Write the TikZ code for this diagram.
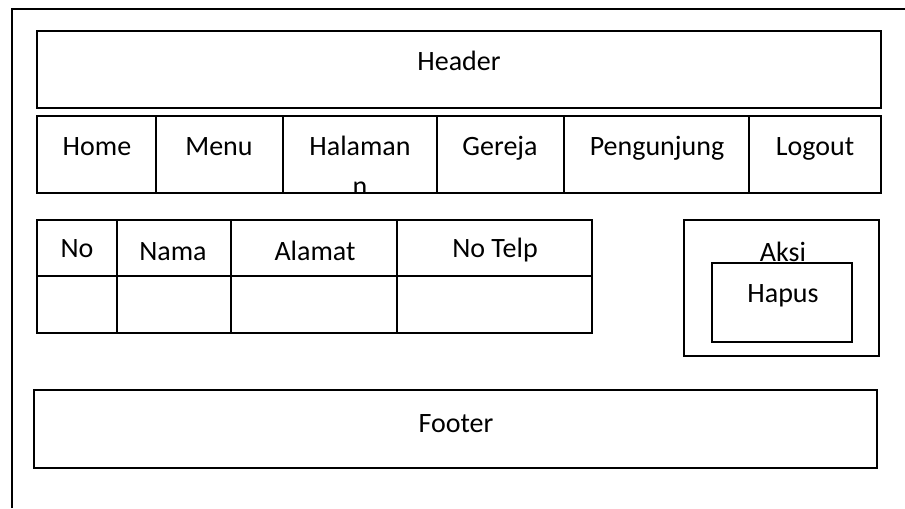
\documentclass[tikz,border=0pt]{standalone}
\usepackage{fontspec}
\setmainfont{Carlito}
\usetikzlibrary{fit}
\begin{document}
\begin{tikzpicture}[x=0.03cm,y=-0.03cm,
  box/.style={draw,line width=1.2pt,inner sep=0pt},
  lbl/.style={anchor=base,inner sep=0pt,font=\fontsize{23.9}{29}\selectfont}]
\useasboundingbox (0,0) rectangle (905,508);
% page frame (left and top only)
\coordinate (fb) at (12,508); \coordinate (fc) at (12,9); \coordinate (fr) at (905,9);
\draw[line width=2.2pt] (fb) -- (fc) -- (fr);
% header
\node[box,fit={(37,31) (881,108)}] (header) {}; \node[lbl] (headertxt) at (459,71) {Header};
% menu bar
\node[box,fit={(37,116) (156,193)}] (home) {}; \node[lbl] (hometxt) at (97,156) {Home};
\node[box,fit={(156,116) (283,193)}] (menu) {}; \node[lbl] (menutxt) at (219,156) {Menu};
\node[box,fit={(283,116) (437,193)}] (halaman) {};
\begin{scope}
\clip (halaman.north west) rectangle (halaman.south east);
\node[lbl] (halamantxt) at (360,156) {Halaman}; \node[lbl] (halamann) at (360,195) {n};
\end{scope}
\node[box,fit={(437,116) (564,193)}] (gereja) {}; \node[lbl] (gerejatxt) at (500,156) {Gereja};
\node[box,fit={(564,116) (749,193)}] (pengunjung) {}; \node[lbl] (pengunjungtxt) at (657,156) {Pengunjung};
\node[box,fit={(749,116) (881,193)}] (logout) {}; \node[lbl] (logouttxt) at (815,156) {Logout};
% table
\node[box,fit={(37,220) (117,276)}] (no) {}; \node[lbl] (notxt) at (77,257) {No};
\node[box,fit={(117,220) (231,276)}] (nama) {}; \node[lbl] (namatxt) at (173,260) {Nama};
\node[box,fit={(231,220) (397,276)}] (alamat) {}; \node[lbl] (alamattxt) at (315,260) {Alamat};
\node[box,fit={(397,220) (592,276)}] (telp) {}; \node[lbl] (telptxt) at (495,257) {No Telp};
\node[box,fit={(37,276) (117,333)}] (nor) {}; \node[box,fit={(117,276) (231,333)}] (namar) {};
\node[box,fit={(231,276) (397,333)}] (alamatr) {}; \node[box,fit={(397,276) (592,333)}] (telpr) {};
% aksi
\node[box,fit={(684,220) (879,356)}] (aksi) {}; \node[lbl] (aksitxt) at (783,261) {Aksi};
\node[box,fit={(712,263) (852,342)}] (hapus) {}; \node[lbl] (hapustxt) at (783,302) {Hapus};
% footer
\node[box,fit={(34,390) (877,468)}] (footer) {}; \node[lbl] (footertxt) at (456,432) {Footer};
\end{tikzpicture}
\end{document}
